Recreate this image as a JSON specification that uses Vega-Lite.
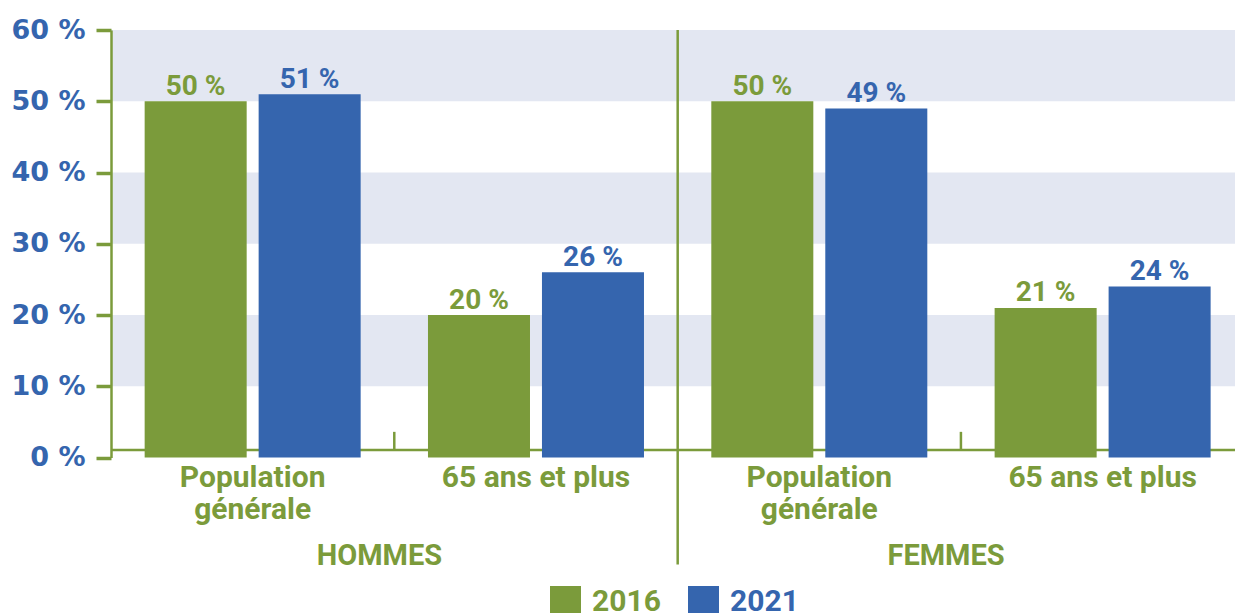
{
  "$schema": "https://vega.github.io/schema/vega-lite/v6.json",
  "autosize": "none",
  "padding": {"left": 111, "top": 30, "right": 0, "bottom": 155},
  "width": 1124,
  "height": 427.5,
  "background": "white",
  "config": {"view": {"stroke": null}},
  "datasets": {
    "main": [
      {"sexe": "HOMMES", "groupe": "HOMMES Population générale", "annee": "2016", "pct": 50, "label": "50 %"},
      {"sexe": "HOMMES", "groupe": "HOMMES Population générale", "annee": "2021", "pct": 51, "label": "51 %"},
      {"sexe": "HOMMES", "groupe": "HOMMES 65 ans et plus", "annee": "2016", "pct": 20, "label": "20 %"},
      {"sexe": "HOMMES", "groupe": "HOMMES 65 ans et plus", "annee": "2021", "pct": 26, "label": "26 %"},
      {"sexe": "FEMMES", "groupe": "FEMMES Population générale", "annee": "2016", "pct": 50, "label": "50 %"},
      {"sexe": "FEMMES", "groupe": "FEMMES Population générale", "annee": "2021", "pct": 49, "label": "49 %"},
      {"sexe": "FEMMES", "groupe": "FEMMES 65 ans et plus", "annee": "2016", "pct": 21, "label": "21 %"},
      {"sexe": "FEMMES", "groupe": "FEMMES 65 ans et plus", "annee": "2021", "pct": 24, "label": "24 %"}
    ],
    "bands": [
      {"b0": 10, "b1": 20},
      {"b0": 30, "b1": 40},
      {"b0": 50, "b1": 60}
    ],
    "sexes": [
      {"sexe": "HOMMES", "groupe": "HOMMES Population générale"},
      {"sexe": "FEMMES", "groupe": "FEMMES Population générale"}
    ],
    "limites": [
      {"groupe": "HOMMES 65 ans et plus"},
      {"groupe": "FEMMES 65 ans et plus"}
    ],
    "axe": [{"niveau": 0}]
  },
  "encoding": {
    "x": {
      "field": "groupe", "type": "nominal",
      "sort": ["HOMMES Population générale", "HOMMES 65 ans et plus", "FEMMES Population générale", "FEMMES 65 ans et plus"],
      "scale": {"domain": ["HOMMES Population générale", "HOMMES 65 ans et plus", "FEMMES Population générale", "FEMMES 65 ans et plus"], "paddingInner": 0.2376, "paddingOuter": 0.1024, "align": 0.58},
      "axis": {
        "title": null,
        "labelAngle": 0,
        "labelExpr": "indexof(datum.value, 'Population') >= 0 ? ['Population', 'générale'] : '65 ans et plus'",
        "labelFont": "Roboto",
        "labelFontWeight": "bold",
        "labelFontSize": 30,
        "labelColor": "#7b9b3b",
        "labelLimit": 0,
        "labelBaseline": "alphabetic",
        "labelLineHeight": 32,
        "labelPadding": 29,
        "ticks": false,
        "domain": false
      }
    }
  },
  "layer": [
    {
      "data": {"name": "bands"},
      "mark": {"type": "rect", "color": "#e3e7f2"},
      "encoding": {
        "x": {"value": 0},
        "x2": {"value": "width"},
        "y": {"field": "b0", "type": "quantitative", "scale": {"domain": [0, 60], "nice": false}},
        "y2": {"field": "b1"}
      }
    },
    {
      "data": {"name": "axe"},
      "mark": {"type": "rule", "color": "#7b9b3b", "strokeWidth": 2.5},
      "encoding": {
        "x": {"value": 0},
        "x2": {"value": "width"},
        "y": {"datum": 1.05}
      }
    },
    {
      "data": {"name": "limites"},
      "mark": {"type": "rule", "color": "#7b9b3b", "strokeWidth": 2.5},
      "encoding": {
        "x": {"field": "groupe", "type": "nominal", "bandPosition": -0.156},
        "y": {"datum": 1.05},
        "y2": {"datum": 3.6}
      }
    },
    {
      "data": {"name": "main"},
      "mark": {"type": "bar"},
      "encoding": {
        "xOffset": {"field": "annee", "type": "nominal", "scale": {"paddingInner": 0.105}},
        "y": {
          "field": "pct", "type": "quantitative",
          "scale": {"domain": [0, 60], "nice": false},
          "axis": {
            "values": [0, 10, 20, 30, 40, 50, 60],
            "labelExpr": "datum.value + ' %'",
            "title": null,
            "grid": false,
            "zindex": 1,
            "labelFont": "DejaVu Sans",
            "labelFontWeight": "bold",
            "labelFontSize": 27,
            "labelColor": "#3565ae",
            "labelPadding": 11,
            "tickColor": "#7b9b3b",
            "tickSize": 15,
            "tickWidth": 3.5,
            "domainColor": "#7b9b3b",
            "domainWidth": 2.5
          }
        },
        "color": {
          "field": "annee", "type": "nominal",
          "scale": {"domain": ["2016", "2021"], "range": ["#7b9b3b", "#3565ae"]},
          "legend": {
            "title": null,
            "orient": "none",
            "direction": "horizontal",
            "legendX": 439,
            "legendY": 556,
            "symbolType": "square",
            "symbolSize": 961,
            "symbolStrokeWidth": 0,
            "labelFont": "Roboto",
            "labelFontWeight": "bold",
            "labelFontSize": 30,
            "labelOffset": 11,
            "columnPadding": 27,
            "encode": {
              "labels": {"update": {"fill": [{"test": "datum.value === '2016'", "value": "#7b9b3b"}, {"value": "#3565ae"}]}}
            }
          }
        }
      }
    },
    {
      "data": {"name": "main"},
      "mark": {"type": "text", "baseline": "alphabetic", "dy": -6.5, "font": "Roboto", "fontWeight": "bold", "fontSize": 28},
      "encoding": {
        "xOffset": {"field": "annee", "type": "nominal"},
        "y": {"field": "pct", "type": "quantitative"},
        "text": {"field": "label", "type": "nominal"},
        "color": {"field": "annee", "type": "nominal"}
      }
    },
    {
      "data": {"name": "limites"},
      "transform": [{"filter": "datum.groupe === 'HOMMES 65 ans et plus'"}],
      "mark": {"type": "rule", "color": "#7b9b3b", "strokeWidth": 2.5},
      "encoding": {
        "x": {"field": "groupe", "type": "nominal", "bandPosition": 1.156},
        "y": {"datum": 60},
        "y2": {"datum": -15}
      }
    },
    {
      "data": {"name": "sexes"},
      "mark": {"type": "text", "baseline": "alphabetic", "font": "Roboto", "fontWeight": "bold", "fontSize": 29, "color": "#7b9b3b"},
      "encoding": {
        "x": {"field": "groupe", "type": "nominal", "bandPosition": 1.087},
        "y": {"datum": -15.1},
        "text": {"field": "sexe", "type": "nominal"}
      }
    }
  ]
}
